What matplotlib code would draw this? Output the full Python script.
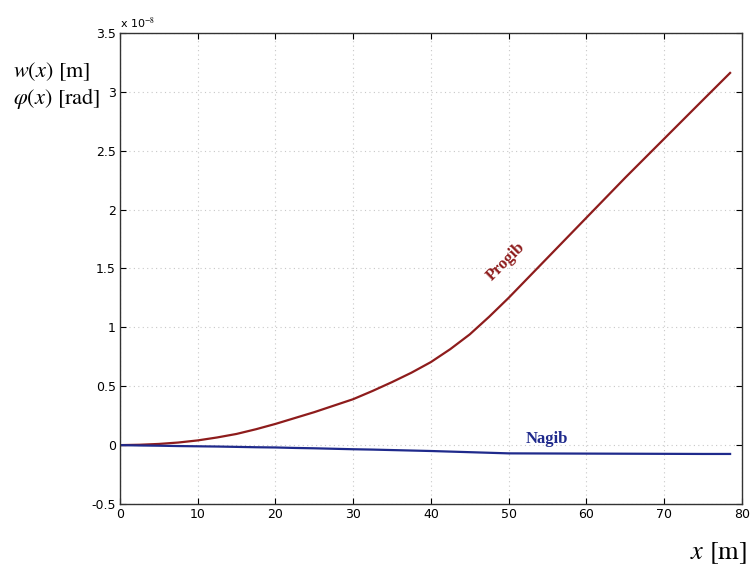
import numpy as np
import matplotlib.pyplot as plt
from matplotlib.ticker import FuncFormatter

plt.rcParams['mathtext.fontset'] = 'stix'

# beam deflection (Progib) and slope (Nagib), values in units of 1e-8
x = [0, 2.5, 5, 7.5, 10, 12.5, 15, 17.5, 20, 22.5, 25, 27.5, 30, 32.5, 35,
     37.5, 40, 42.5, 45, 47.5, 50, 52.5, 55, 60, 65, 70, 75, 78.5]
progib = [0, 0.003, 0.01, 0.022, 0.04, 0.065, 0.095, 0.135, 0.18, 0.23, 0.28,
          0.335, 0.39, 0.46, 0.535, 0.615, 0.705, 0.815, 0.94, 1.09, 1.25,
          1.42, 1.59, 1.93, 2.27, 2.60, 2.93, 3.16]
nagib = [0, -0.003, -0.005, -0.008, -0.01, -0.012, -0.015, -0.018, -0.02,
         -0.024, -0.027, -0.031, -0.035, -0.038, -0.042, -0.046, -0.05,
         -0.055, -0.06, -0.065, -0.07, -0.0705, -0.071, -0.072, -0.073,
         -0.074, -0.075, -0.075]

red = '#8e1c1c'
blue = '#1f2a8c'

fig = plt.figure(figsize=(7.5, 5.77), dpi=100)
ax = fig.add_axes([0.16, 0.1265, 0.829, 0.8165])

ax.plot(x, progib, color=red, lw=1.6)
ax.plot(x, nagib, color=blue, lw=1.6)

ax.set_xlim(0, 80)
ax.set_ylim(-0.5, 3.5)
ax.set_xticks(np.arange(0, 81, 10))
ax.set_yticks(np.arange(-0.5, 3.51, 0.5))
ax.yaxis.set_major_formatter(FuncFormatter(lambda v, p: '%g' % v))
ax.tick_params(direction='in', top=True, right=True, labelsize=9, length=4,
               pad=3)
ax.grid(True, linestyle=(0, (1, 3)), color='#c8c8c8', lw=0.8)
for s in ax.spines.values():
    s.set_linewidth(1.0)
    s.set_color('#333333')

ax.text(0.0, 1.005, r'x 10$^{-8}$', transform=ax.transAxes, fontsize=8,
        ha='left', va='bottom')

ax.text(49.6, 1.56, 'Progib', color=red, rotation=45, ha='center',
        va='center', fontsize=12, family='Liberation Serif', weight='bold')
ax.text(54.9, 0.05, 'Nagib', color=blue, ha='center', va='center',
        fontsize=12, family='Liberation Serif', weight='bold')

fig.text(0.018, 0.875, r'$w(x)$ [m]', fontsize=16, family='STIXGeneral',
         ha='left', va='center')
fig.text(0.018, 0.829, r'$\varphi(x)$ [rad]', fontsize=16,
         family='STIXGeneral', ha='left', va='center')
fig.text(0.92, 0.042, r'$x$ [m]', fontsize=19, family='STIXGeneral',
         ha='left', va='center')

fig.savefig('out.png', dpi=100)
